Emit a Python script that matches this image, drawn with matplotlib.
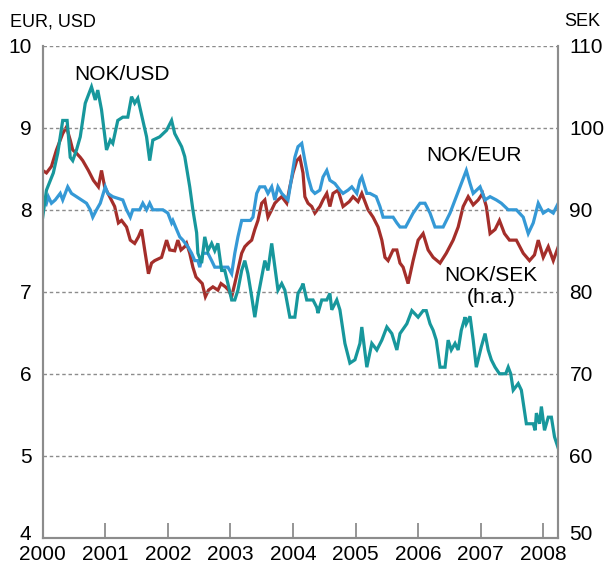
import matplotlib
matplotlib.use("Agg")
import matplotlib.pyplot as plt
from matplotlib.transforms import ScaledTranslation

plt.rcParams['font.family'] = ['Liberation Sans', 'DejaVu Sans']

# ---- data (decimal year, value) ----
usd_t = [2000.00, 2000.06, 2000.17, 2000.24, 2000.32, 2000.39, 2000.44, 2000.48, 2000.54, 2000.60,
         2000.68, 2000.78, 2000.84, 2000.88, 2000.94, 2001.02, 2001.08, 2001.12, 2001.20, 2001.28,
         2001.36, 2001.42, 2001.47, 2001.52, 2001.60, 2001.66, 2001.71, 2001.76, 2001.87, 2001.98,
         2002.06, 2002.11, 2002.22, 2002.27, 2002.35, 2002.40, 2002.46, 2002.48, 2002.54, 2002.59,
         2002.64, 2002.70, 2002.75, 2002.80, 2002.86, 2002.91, 2002.96, 2003.02, 2003.07, 2003.12,
         2003.18, 2003.23, 2003.28, 2003.34, 2003.39, 2003.44, 2003.50, 2003.55, 2003.60, 2003.66,
         2003.71, 2003.76, 2003.82, 2003.87, 2003.95, 2004.03, 2004.08, 2004.14, 2004.16, 2004.22,
         2004.32, 2004.38, 2004.40, 2004.46, 2004.54, 2004.59, 2004.62, 2004.70, 2004.75, 2004.83,
         2004.91, 2004.99, 2005.07, 2005.10, 2005.18, 2005.26, 2005.34, 2005.42, 2005.50, 2005.58,
         2005.66, 2005.71, 2005.82, 2005.90, 2005.95, 2006.00, 2006.08, 2006.13, 2006.19, 2006.24,
         2006.29, 2006.35, 2006.43, 2006.48, 2006.53, 2006.59, 2006.64, 2006.69, 2006.75, 2006.77,
         2006.83, 2006.88, 2006.93, 2007.01, 2007.07, 2007.12, 2007.17, 2007.23, 2007.30, 2007.40,
         2007.44, 2007.48, 2007.52, 2007.60, 2007.65, 2007.73, 2007.84, 2007.87, 2007.89, 2007.94,
         2007.97, 2008.02, 2008.08, 2008.13, 2008.18, 2008.24]
usd_v = [7.91, 8.24, 8.45, 8.69, 9.09, 9.09, 8.64, 8.60, 8.73, 8.89,
         9.30, 9.50, 9.34, 9.46, 9.22, 8.73, 8.85, 8.81, 9.09, 9.13,
         9.13, 9.38, 9.30, 9.36, 9.09, 8.89, 8.60, 8.85, 8.89, 8.97,
         9.09, 8.93, 8.77, 8.65, 8.28, 8.00, 7.72, 7.47, 7.35, 7.67,
         7.50, 7.59, 7.50, 7.59, 7.26, 7.26, 7.10, 6.90, 6.90, 7.02,
         7.26, 7.38, 7.22, 6.94, 6.69, 6.94, 7.18, 7.38, 7.26, 7.59,
         7.30, 7.02, 7.10, 7.02, 6.69, 6.69, 6.98, 7.06, 7.10, 6.90,
         6.90, 6.81, 6.74, 6.90, 6.90, 6.98, 6.78, 6.90, 6.78, 6.37,
         6.13, 6.17, 6.37, 6.57, 6.08, 6.37, 6.29, 6.41, 6.57, 6.49,
         6.29, 6.49, 6.61, 6.77, 6.73, 6.69, 6.77, 6.77, 6.61, 6.53,
         6.41, 6.08, 6.08, 6.41, 6.29, 6.37, 6.29, 6.53, 6.69, 6.61,
         6.70, 6.41, 6.08, 6.33, 6.49, 6.29, 6.17, 6.08, 6.00, 6.00,
         6.08, 6.00, 5.80, 5.88, 5.80, 5.39, 5.39, 5.31, 5.52, 5.39,
         5.60, 5.31, 5.47, 5.47, 5.23, 5.09]

eur_t = [2000.00, 2000.06, 2000.09, 2000.14, 2000.20, 2000.28, 2000.32, 2000.40, 2000.46, 2000.54,
         2000.62, 2000.70, 2000.76, 2000.80, 2000.86, 2000.92, 2001.00, 2001.04, 2001.12, 2001.28,
         2001.34, 2001.40, 2001.44, 2001.55, 2001.60, 2001.66, 2001.71, 2001.76, 2001.92, 2002.00,
         2002.06, 2002.08, 2002.14, 2002.19, 2002.24, 2002.32, 2002.38, 2002.43, 2002.48, 2002.51,
         2002.56, 2002.64, 2002.70, 2002.75, 2002.96, 2003.02, 2003.07, 2003.12, 2003.18, 2003.32,
         2003.36, 2003.42, 2003.47, 2003.55, 2003.60, 2003.66, 2003.71, 2003.76, 2003.82, 2003.87,
         2003.92, 2003.98, 2004.03, 2004.08, 2004.14, 2004.19, 2004.24, 2004.30, 2004.35, 2004.43,
         2004.48, 2004.54, 2004.59, 2004.67, 2004.75, 2004.80, 2004.88, 2004.94, 2005.02, 2005.07,
         2005.10, 2005.18, 2005.23, 2005.33, 2005.39, 2005.44, 2005.60, 2005.66, 2005.71, 2005.80,
         2005.92, 2006.03, 2006.11, 2006.19, 2006.27, 2006.40, 2006.51, 2006.61, 2006.71, 2006.77,
         2006.83, 2006.88, 2006.99, 2007.07, 2007.15, 2007.25, 2007.33, 2007.44, 2007.57, 2007.68,
         2007.76, 2007.84, 2007.92, 2008.00, 2008.08, 2008.16, 2008.24]
eur_v = [8.16, 8.08, 8.16, 8.08, 8.12, 8.20, 8.12, 8.28, 8.20, 8.16,
         8.12, 8.08, 8.00, 7.91, 8.00, 8.08, 8.28, 8.20, 8.16, 8.12,
         8.00, 7.91, 8.00, 8.00, 8.08, 8.00, 8.08, 8.00, 8.00, 7.96,
         7.84, 7.87, 7.76, 7.67, 7.63, 7.55, 7.47, 7.38, 7.38, 7.30,
         7.47, 7.47, 7.38, 7.30, 7.30, 7.22, 7.47, 7.67, 7.87, 7.87,
         7.91, 8.20, 8.28, 8.28, 8.20, 8.28, 8.12, 8.28, 8.20, 8.16,
         8.12, 8.40, 8.64, 8.77, 8.81, 8.60, 8.40, 8.24, 8.20, 8.24,
         8.40, 8.48, 8.36, 8.32, 8.24, 8.20, 8.24, 8.28, 8.20, 8.36,
         8.40, 8.20, 8.20, 8.16, 8.04, 7.91, 7.91, 7.84, 7.79, 7.79,
         7.96, 8.08, 8.08, 7.96, 7.79, 7.79, 7.96, 8.16, 8.36, 8.48,
         8.32, 8.20, 8.28, 8.12, 8.16, 8.12, 8.08, 8.00, 8.00, 7.91,
         7.71, 7.84, 8.08, 7.96, 8.00, 7.96, 8.08]

sek_t = [2000.00, 2000.06, 2000.14, 2000.22, 2000.28, 2000.32, 2000.38, 2000.44, 2000.48, 2000.54,
         2000.60, 2000.64, 2000.73, 2000.81, 2000.89, 2000.94, 2000.99, 2001.07, 2001.15, 2001.21,
         2001.26, 2001.34, 2001.40, 2001.47, 2001.53, 2001.58, 2001.63, 2001.69, 2001.74, 2001.79,
         2001.90, 2001.98, 2002.03, 2002.11, 2002.16, 2002.21, 2002.27, 2002.30, 2002.35, 2002.40,
         2002.45, 2002.50, 2002.55, 2002.60, 2002.65, 2002.72, 2002.80, 2002.85, 2002.92, 2002.97,
         2003.02, 2003.07, 2003.13, 2003.18, 2003.23, 2003.28, 2003.34, 2003.39, 2003.44, 2003.50,
         2003.55, 2003.60, 2003.66, 2003.71, 2003.76, 2003.82, 2003.90, 2003.95, 2004.00, 2004.06,
         2004.11, 2004.16, 2004.19, 2004.24, 2004.30, 2004.35, 2004.43, 2004.48, 2004.54, 2004.59,
         2004.64, 2004.72, 2004.80, 2004.90, 2004.96, 2005.04, 2005.10, 2005.15, 2005.20, 2005.28,
         2005.36, 2005.42, 2005.47, 2005.52, 2005.60, 2005.66, 2005.71, 2005.76, 2005.84, 2005.92,
         2006.00, 2006.08, 2006.16, 2006.24, 2006.35, 2006.45, 2006.56, 2006.64, 2006.72, 2006.80,
         2006.88, 2006.96, 2007.03, 2007.09, 2007.15, 2007.23, 2007.30, 2007.38, 2007.46, 2007.57,
         2007.68, 2007.78, 2007.86, 2007.92, 2008.00, 2008.08, 2008.16, 2008.24]
sek_v = [94.8, 94.5, 95.3, 97.3, 98.5, 99.3, 100.1, 98.5, 97.3, 96.9,
         96.4, 96.0, 94.8, 93.6, 92.8, 94.8, 92.8, 91.6, 90.4, 88.4,
         88.7, 87.9, 86.3, 85.9, 86.7, 87.6, 85.1, 82.2, 83.5, 83.8,
         84.2, 86.3, 85.1, 85.0, 86.3, 85.1, 85.5, 85.9, 84.7, 83.0,
         81.8, 81.4, 81.0, 79.4, 80.2, 80.6, 80.2, 81.0, 80.6, 80.2,
         79.4, 81.0, 83.0, 84.7, 85.5, 85.9, 86.3, 87.6, 88.7, 90.8,
         91.2, 89.1, 90.0, 90.8, 91.2, 91.6, 90.8, 92.8, 94.5, 96.0,
         96.4, 94.5, 91.6, 90.8, 90.4, 89.6, 90.4, 91.2, 92.0, 90.4,
         92.0, 92.4, 90.4, 91.0, 91.6, 91.0, 92.0, 91.0, 90.0, 89.1,
         87.9, 86.3, 84.2, 83.8, 85.1, 85.1, 83.5, 83.0, 81.0, 83.8,
         86.3, 87.1, 85.1, 84.2, 83.5, 84.7, 86.3, 87.9, 90.4, 91.6,
         90.6, 91.2, 92.0, 90.4, 87.1, 87.6, 88.7, 87.1, 86.3, 86.3,
         84.7, 83.8, 84.5, 86.3, 84.2, 85.5, 83.8, 85.5]

year_ticks = [2000, 2001, 2002, 2003, 2004, 2005, 2006, 2007, 2008]
left_ticks = [4, 5, 6, 7, 8, 9, 10]
right_ticks = [50, 60, 70, 80, 90, 100, 110]

# ---- styling ----
C_USD = '#17979c'
C_EUR = '#3599d6'
C_SEK = '#a42e2a'
SPINE = '#8c8c8c'
GRID = '#8c8c8c'
FS = 15
LW = 2.3

fig = plt.figure(figsize=(6.04, 5.66), dpi=100)
ax = fig.add_axes([0.0707, 0.05, 0.8536, 0.869])
ax2 = ax.twinx()

ax2.plot(sek_t, sek_v, color=C_SEK, lw=LW, solid_joinstyle='miter')
ax.plot(eur_t, eur_v, color=C_EUR, lw=LW, solid_joinstyle='miter')
ax.plot(usd_t, usd_v, color=C_USD, lw=LW, solid_joinstyle='miter')

ax.set_zorder(ax2.get_zorder() + 1)
ax.patch.set_visible(False)

ax.set_xlim(2000, 2008.24)
ax.set_ylim(4, 10)
ax2.set_ylim(50, 110)

for y in left_ticks[1:]:
    ax.axhline(y, color=GRID, lw=1.0, ls=(0, (2.5, 2.0)), zorder=0)

ax.set_yticks(left_ticks)
ax.set_yticklabels([str(t) for t in left_ticks], fontsize=FS)
ax2.set_yticks(right_ticks)
ax2.set_yticklabels([str(t) for t in right_ticks], fontsize=FS)
ax.set_xticks(year_ticks)
ax.set_xticklabels([str(t) for t in year_ticks], fontsize=FS)

ax.tick_params(axis='y', length=0, pad=8)
ax2.tick_params(axis='y', length=0, pad=8)
ax.tick_params(axis='x', direction='in', length=11, width=1.3, color=SPINE, pad=5)

# nudge the lowest labels up slightly so they don't collide with the year labels
for lbl in (ax.get_yticklabels()[0], ax2.get_yticklabels()[0]):
    lbl.set_transform(lbl.get_transform() + ScaledTranslation(0, 5 / 100, fig.dpi_scale_trans))

for a in (ax, ax2):
    a.spines['top'].set_visible(False)
    for s in ('left', 'right', 'bottom'):
        a.spines[s].set_color(SPINE)
        a.spines[s].set_linewidth(1.5)

fig.text(0.017, 0.962, 'EUR, USD', fontsize=13, ha='left', va='center')
fig.text(0.993, 0.962, 'SEK', fontsize=13, ha='right', va='center')

ax.text(2001.27, 9.65, 'NOK/USD', fontsize=FS, ha='center', va='center')
ax.text(2006.89, 8.66, 'NOK/EUR', fontsize=FS, ha='center', va='center')
ax.text(2007.17, 7.20, 'NOK/SEK', fontsize=FS, ha='center', va='center')
ax.text(2007.17, 6.93, '(h.a.)', fontsize=FS, ha='center', va='center')

fig.savefig('out.png', dpi=100)
